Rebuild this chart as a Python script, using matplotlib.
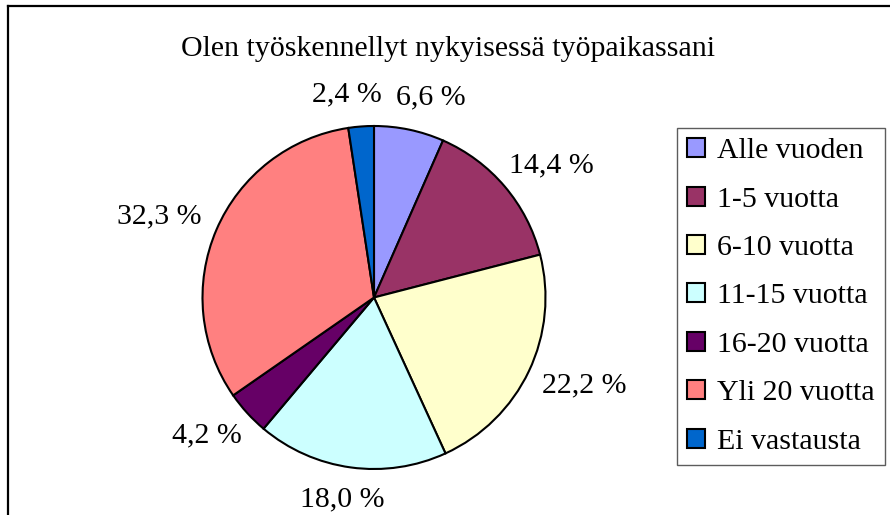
import numpy as np
import matplotlib
matplotlib.use("Agg")
import matplotlib.pyplot as plt
from matplotlib.patches import Patch
from matplotlib.lines import Line2D

# ---- data ----
title = "Olen työskennellyt nykyisessä työpaikassani"
categories = ["Alle vuoden", "1-5 vuotta", "6-10 vuotta", "11-15 vuotta",
              "16-20 vuotta", "Yli 20 vuotta", "Ei vastausta"]
values = [6.6, 14.4, 22.2, 18.0, 4.2, 32.3, 2.4]
value_labels = ["6,6 %", "14,4 %", "22,2 %", "18,0 %", "4,2 %", "32,3 %", "2,4 %"]
colors = ["#9999FF", "#993366", "#FFFFCC", "#CCFFFF", "#660066", "#FF8080", "#0066CC"]

W, H = 890, 515
DPI = 100
plt.rcParams['font.family'] = ['Liberation Serif', 'DejaVu Serif']
FS = 21.5

fig = plt.figure(figsize=(W / DPI, H / DPI), dpi=DPI)
fig.patch.set_facecolor("white")

# pie axes: centre (374, 297.5) px, radius 171.5 px
cx, cy, R = 374, 297.5, 171.5
ax = fig.add_axes([(cx - R) / W, (H - cy - R) / H, 2 * R / W, 2 * R / H])
wedges, _ = ax.pie(values, colors=colors, startangle=90, counterclock=False,
                   wedgeprops=dict(edgecolor="black", linewidth=1.5))
ax.set_xlim(-1, 1)
ax.set_ylim(-1, 1)
ax.set_aspect("auto")
ax.axis("off")

# value labels, placed outside like Excel
fig.canvas.draw()
renderer = fig.canvas.get_renderer()
anchor_r = 1.114
texts, sizes = [], []
for w, lab in zip(wedges, value_labels):
    mid = np.deg2rad((w.theta1 + w.theta2) / 2)
    c, s = np.cos(mid), np.sin(mid)
    t = ax.text(0, 0, lab, ha="center", va="center", fontsize=FS, clip_on=False)
    bb = t.get_window_extent(renderer)
    tw, th = bb.width / R, bb.height / R
    t.set_position((anchor_r * c + tw / 2 * c, anchor_r * s + th / 2 * s))
    texts.append(t)
    sizes.append((tw, th))

# resolve horizontal overlaps between labels (push apart)
gap = 15 / R
n = len(texts)
for i in range(n):
    for j in range(i + 1, n):
        (xi, yi), (xj, yj) = texts[i].get_position(), texts[j].get_position()
        (wi, hi), (wj, hj) = sizes[i], sizes[j]
        if abs(yi - yj) < (hi + hj) / 2 * 0.8:
            need = (wi + wj) / 2 + gap
            d = abs(xi - xj)
            if d < need:
                sh = (need - d) / 2
                sgn = 1 if xi >= xj else -1
                texts[i].set_position((xi + sgn * sh, yi))
                texts[j].set_position((xj - sgn * sh, yj))

# title
fig.text(448 / W, 1 - 56 / H, title, ha="center", va="baseline", fontsize=FS)

# legend
handles = [Patch(facecolor=col, edgecolor="black", linewidth=1.5) for col in colors]
leg = fig.legend(handles, categories, loc="upper left",
                 bbox_to_anchor=(677 / W, 1 - 128 / H), bbox_transform=fig.transFigure,
                 borderaxespad=0, fontsize=FS, frameon=True, fancybox=False,
                 handlelength=0.6, handleheight=0.6, handletextpad=0.4,
                 labelspacing=0.75, borderpad=0.34)
leg.get_frame().set_edgecolor("#333333")
leg.get_frame().set_linewidth(1.0)

# chart area border (left and top visible)
fig.add_artist(Line2D([7.8 / W, 7.8 / W], [0, 1 - 5.7 / H], transform=fig.transFigure,
                      color="black", linewidth=1.6, solid_capstyle="projecting"))
fig.add_artist(Line2D([7.8 / W, 1], [1 - 5.7 / H, 1 - 5.7 / H], transform=fig.transFigure,
                      color="black", linewidth=1.6, solid_capstyle="projecting"))

fig.savefig("out.png", dpi=DPI)
